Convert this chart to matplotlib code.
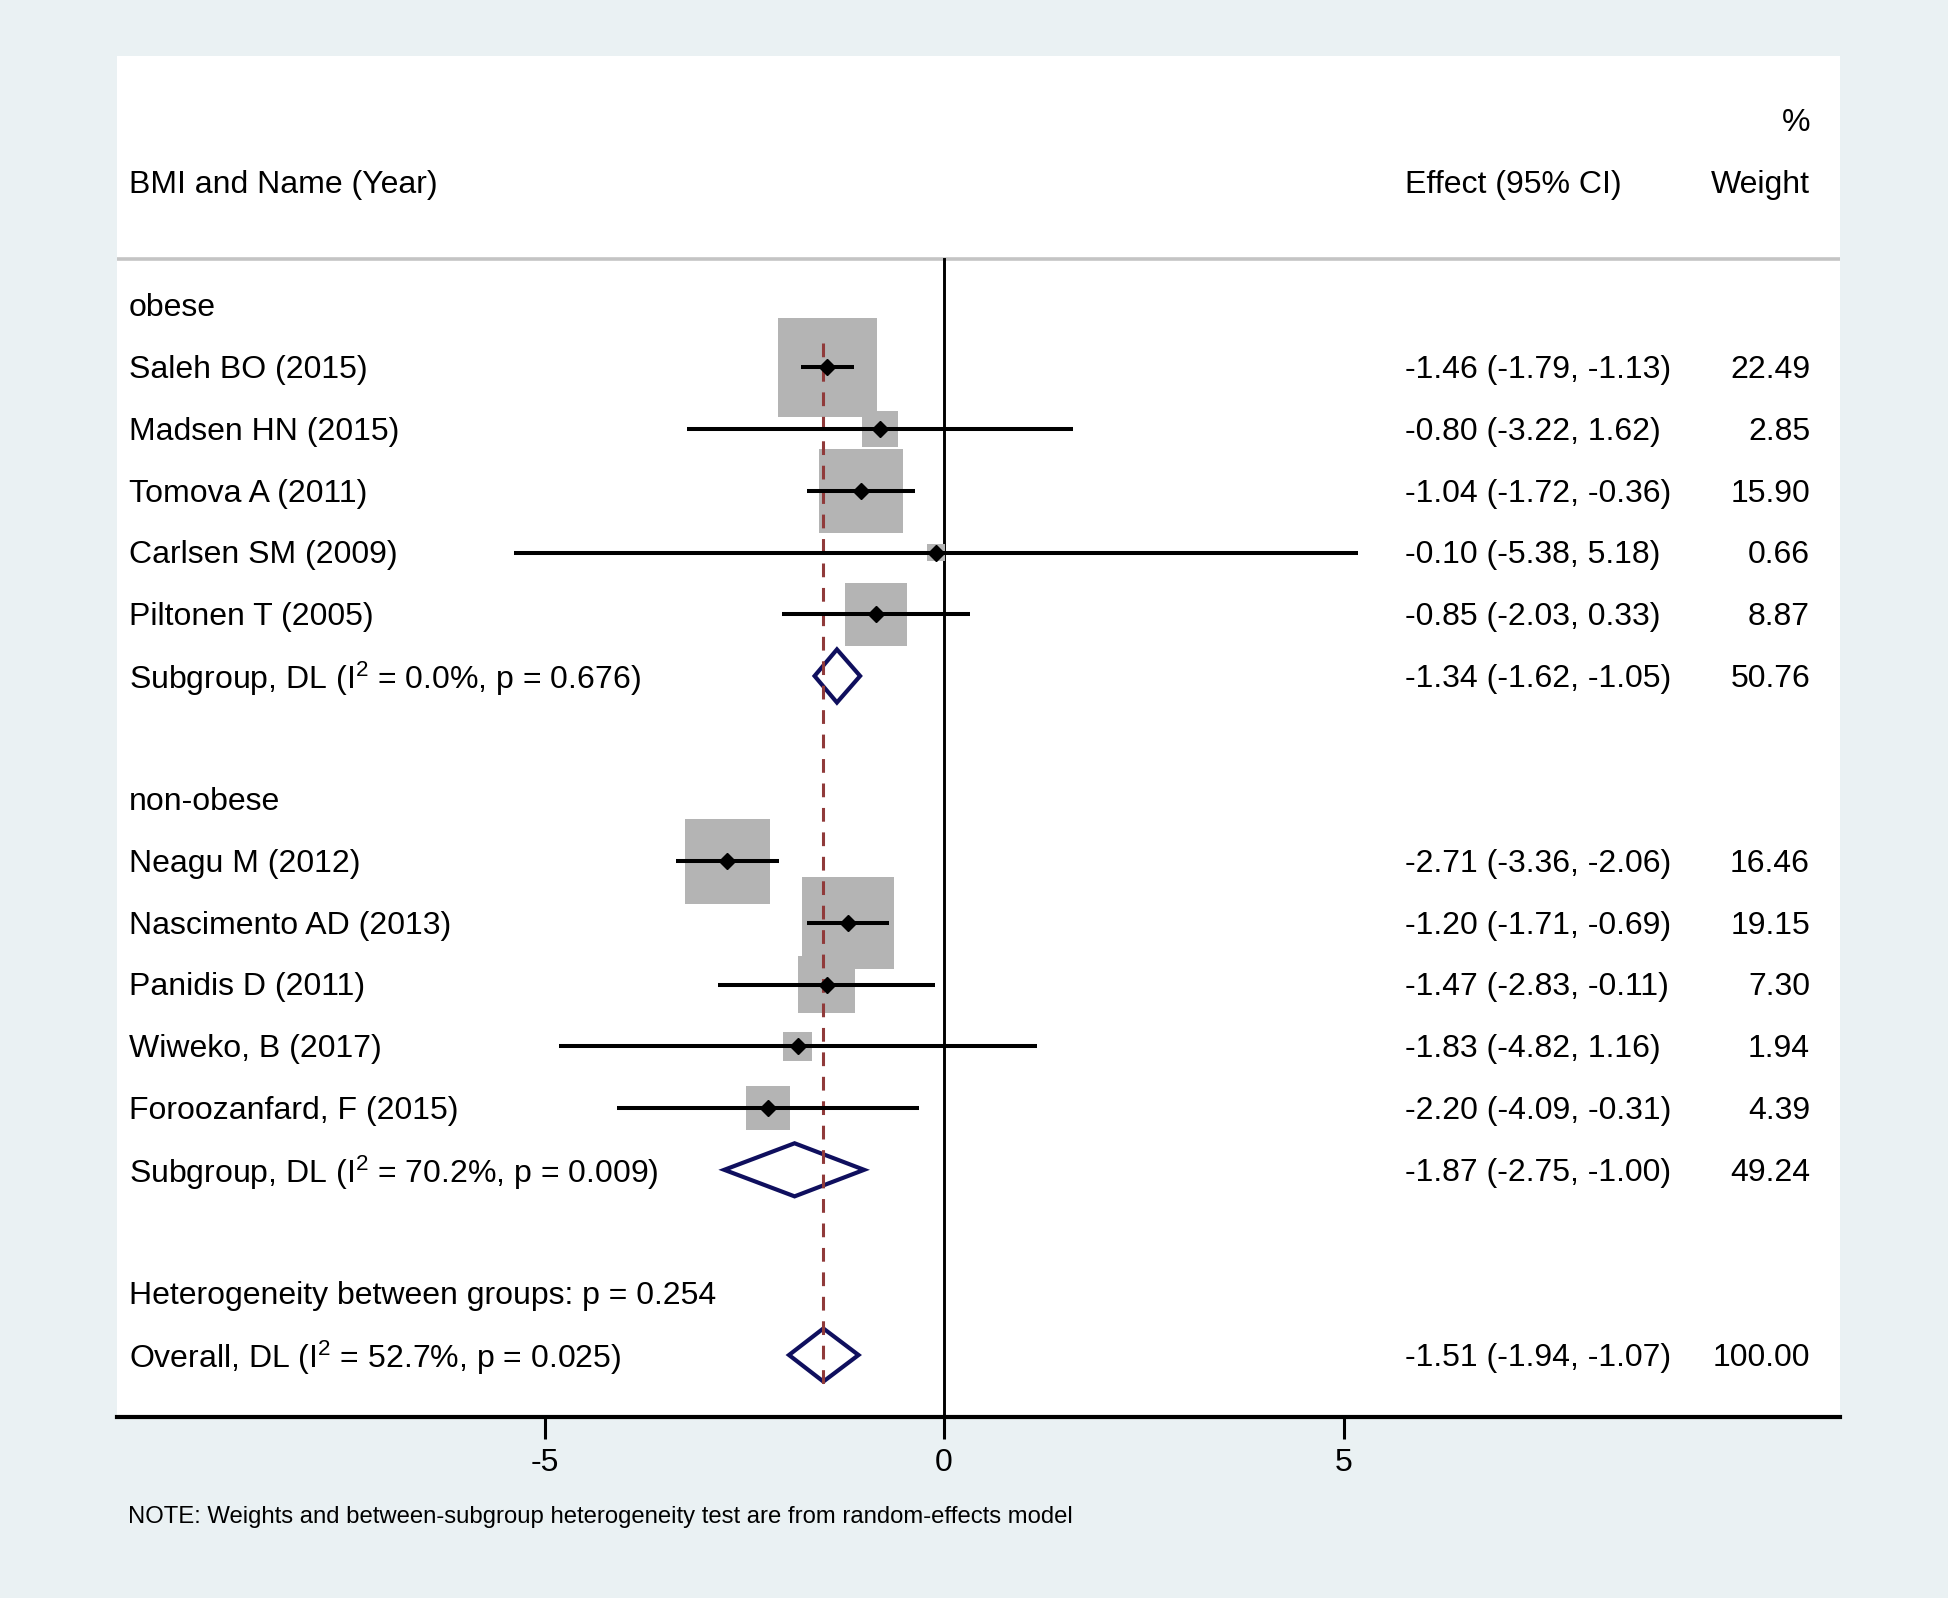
import numpy as np
import matplotlib
matplotlib.use("Agg")
import matplotlib.pyplot as plt
import matplotlib.patches as mpatches
import matplotlib.transforms as mtrans

plt.rcParams['font.family'] = ['Liberation Sans', 'DejaVu Sans']
plt.rcParams['mathtext.fontset'] = 'custom'
plt.rcParams['mathtext.rm'] = 'Liberation Sans'
plt.rcParams['mathtext.default'] = 'regular'

# ---- data ----
group_names = ["obese", "non-obese"]

obese_names = ["Saleh BO (2015)", "Madsen HN (2015)", "Tomova A (2011)",
               "Carlsen SM (2009)", "Piltonen T (2005)"]
obese_est = [-1.46, -0.80, -1.04, -0.10, -0.85]
obese_lo = [-1.79, -3.22, -1.72, -5.38, -2.03]
obese_hi = [-1.13, 1.62, -0.36, 5.18, 0.33]
obese_w = [22.49, 2.85, 15.90, 0.66, 8.87]

nonob_names = ["Neagu M (2012)", "Nascimento AD (2013)", "Panidis D (2011)",
               "Wiweko, B (2017)", "Foroozanfard, F (2015)"]
nonob_est = [-2.71, -1.20, -1.47, -1.83, -2.20]
nonob_lo = [-3.36, -1.71, -2.83, -4.82, -4.09]
nonob_hi = [-2.06, -0.69, -0.11, 1.16, -0.31]
nonob_w = [16.46, 19.15, 7.30, 1.94, 4.39]

sub_i2 = [0.0, 70.2]
sub_p = [0.676, 0.009]
sub_est = [-1.34, -1.87]
sub_lo = [-1.62, -2.75]
sub_hi = [-1.05, -1.00]
sub_w = [50.76, 49.24]

het_p = 0.254
overall_i2 = 52.7
overall_p = 0.025
overall_est = -1.51
overall_lo = -1.94
overall_hi = -1.07

xticks = [-5, 0, 5]

# ---- layout ----
W, H, DPI = 1948, 1598, 100
bg = "#eaf1f3"
navy = "#0f0f5e"
maroon = "#903a3a"
grey_box = "#b4b4b4"
fs = 23
dy = 0.045  # small downward nudge so text sits like Stata's

fig = plt.figure(figsize=(W / DPI, H / DPI), dpi=DPI, facecolor=bg)
px_l, px_r, px_t, px_b = 116.5, 1840, 56, 1417
ax = fig.add_axes([px_l / W, 1 - px_b / H, (px_r - px_l) / W, (px_b - px_t) / H])
ax.set_facecolor("white")

x0_px, unit_px = 944, 79.9
ax.set_xlim((px_l - x0_px) / unit_px, (px_r - x0_px) / unit_px)
row0_px, row_px = 305.6, 61.73
ax.set_ylim((px_b - row0_px) / row_px, (px_t - row0_px) / row_px)

for s in ["top", "left", "right"]:
    ax.spines[s].set_visible(False)
ax.spines["bottom"].set_linewidth(3.0)
ax.set_yticks([])
ax.set_xticks(xticks)
ax.set_xticklabels([str(t) for t in xticks], fontsize=fs)
ax.tick_params(axis="x", length=16, width=2.2, pad=6, direction="out")

tx = mtrans.blended_transform_factory(ax.transAxes, ax.transData)
x_name = (129 - px_l) / (px_r - px_l)
x_eff = (1405 - px_l) / (px_r - px_l)
x_wt = (1810 - px_l) / (px_r - px_l)


def label(x, y, s, ha="left"):
    ax.text(x, y + dy, s, transform=tx, ha=ha, va="center", fontsize=fs)


# header
label(x_wt, -3, "%", ha="right")
label(x_name, -2, "BMI and Name (Year)")
label(x_eff, -2, "Effect (95% CI)")
label(x_wt, -2, "Weight", ha="right")
ax.axhline(-0.755, color="#c4c4c4", lw=2.6, zorder=1)

ax.plot([0, 0], [-0.755, 18.1], color="black", lw=2.1, zorder=2, clip_on=False)
ax.plot([overall_est, overall_est], [0.6, 17.5], color=maroon, lw=2.2,
        dashes=(4.5, 3.5), zorder=5)

# s in points^2 -> side of 21 px per sqrt(weight)
box_k = (21 * 72 / DPI) ** 2


def diamond(est, lo, hi, y):
    h = 0.43
    poly = mpatches.Polygon([(lo, y), (est, y - h), (hi, y), (est, y + h)],
                            closed=True, facecolor="white", edgecolor=navy,
                            lw=3.0, zorder=4)
    ax.add_patch(poly)


groups = [
    (obese_names, obese_est, obese_lo, obese_hi, obese_w),
    (nonob_names, nonob_est, nonob_lo, nonob_hi, nonob_w),
]

y = 0
for g, (names, est, lo, hi, w) in enumerate(groups):
    label(x_name, y, group_names[g])
    y += 1
    ys = np.arange(y, y + len(names))
    ax.scatter(est, ys, s=np.array(w) * box_k, marker="s", color=grey_box,
               linewidths=0, zorder=3)
    ax.hlines(ys, lo, hi, color="black", lw=2.9, zorder=6)
    ax.plot(est, ys, "D", color="black", markersize=8.5, zorder=7)
    for i, n in enumerate(names):
        label(x_name, ys[i], n)
        label(x_eff, ys[i], f"{est[i]:.2f} ({lo[i]:.2f}, {hi[i]:.2f})")
        label(x_wt, ys[i], f"{w[i]:.2f}", ha="right")
    y += len(names)
    diamond(sub_est[g], sub_lo[g], sub_hi[g], y)
    label(x_name, y, f"Subgroup, DL (I$^{{2}}$ = {sub_i2[g]:.1f}%, p = {sub_p[g]:.3f})")
    label(x_eff, y, f"{sub_est[g]:.2f} ({sub_lo[g]:.2f}, {sub_hi[g]:.2f})")
    label(x_wt, y, f"{sub_w[g]:.2f}", ha="right")
    y += 2

label(x_name, y, f"Heterogeneity between groups: p = {het_p:.3f}")
y += 1
diamond(overall_est, overall_lo, overall_hi, y)
label(x_name, y, f"Overall, DL (I$^{{2}}$ = {overall_i2:.1f}%, p = {overall_p:.3f})")
label(x_eff, y, f"{overall_est:.2f} ({overall_lo:.2f}, {overall_hi:.2f})")
label(x_wt, y, "100.00", ha="right")

fig.text(128 / W, 1 - 1517 / H,
         "NOTE: Weights and between-subgroup heterogeneity test are from random-effects model",
         ha="left", va="center", fontsize=17.2)

fig.savefig("out.png", dpi=DPI, facecolor=bg)
